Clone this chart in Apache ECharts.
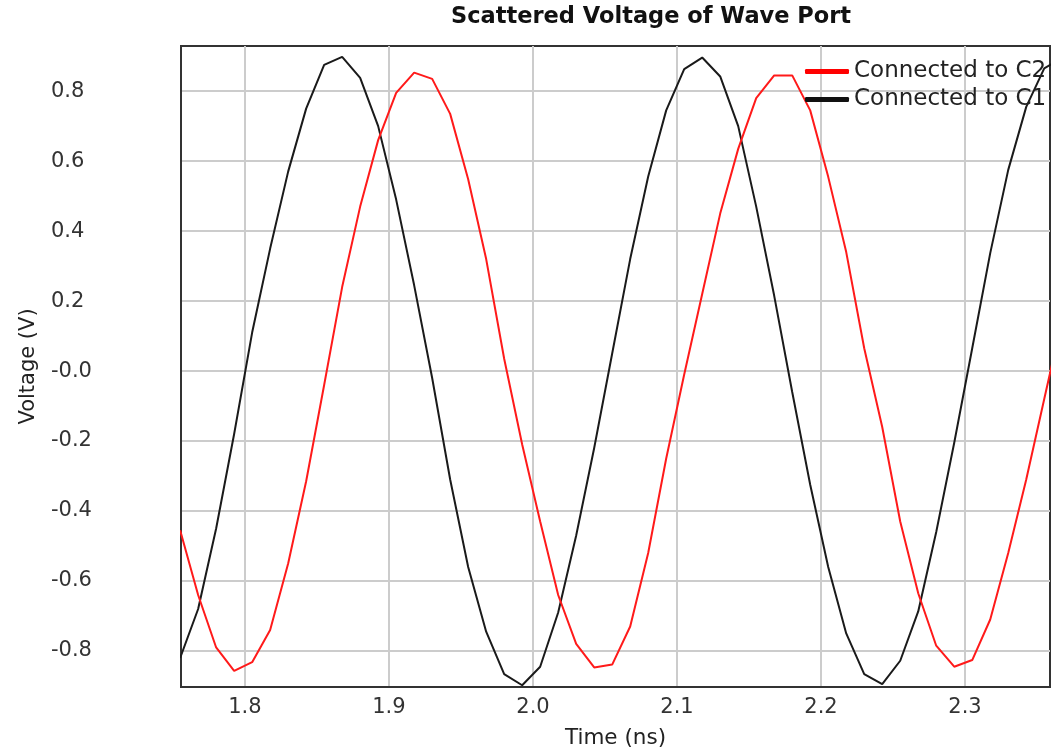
<!DOCTYPE html>
<html>
<head>
<meta charset="utf-8">
<script src="https://cdn.jsdelivr.net/npm/echarts@6/dist/echarts.min.js"></script>
<style>
html,body{margin:0;padding:0;background:#fff;}
#chart{width:1054px;height:750px;}
</style>
</head>
<body>
<div id="chart"></div>
<script>
// Sample times (ns)
var times = [1.755, 1.7675, 1.78, 1.7925, 1.805, 1.8175, 1.83, 1.8425, 1.855, 1.8675,
  1.88, 1.8925, 1.905, 1.9175, 1.93, 1.9425, 1.955, 1.9675, 1.98, 1.9925,
  2.005, 2.0175, 2.03, 2.0425, 2.055, 2.0675, 2.08, 2.0925, 2.105, 2.1175,
  2.13, 2.1425, 2.155, 2.1675, 2.18, 2.1925, 2.205, 2.2175, 2.23, 2.2425,
  2.255, 2.2675, 2.28, 2.2925, 2.305, 2.3175, 2.33, 2.3425, 2.355, 2.3675];

// Connected to C2 (red), volts
var voltsC2 = [-0.455, -0.64, -0.79, -0.857, -0.832, -0.74, -0.55, -0.315, -0.04, 0.24,
  0.47, 0.66, 0.795, 0.853, 0.835, 0.735, 0.548, 0.32, 0.035, -0.21,
  -0.43, -0.64, -0.78, -0.847, -0.839, -0.73, -0.52, -0.25, -0.01, 0.22,
  0.45, 0.635, 0.78, 0.845, 0.845, 0.745, 0.555, 0.34, 0.065, -0.16,
  -0.43, -0.635, -0.785, -0.845, -0.826, -0.71, -0.52, -0.31, -0.08, 0.15];

// Connected to C1 (black), volts
var voltsC1 = [-0.82, -0.68, -0.45, -0.18, 0.11, 0.35, 0.57, 0.75, 0.875, 0.898,
  0.838, 0.70, 0.49, 0.245, -0.02, -0.31, -0.56, -0.745, -0.866, -0.898,
  -0.845, -0.69, -0.47, -0.22, 0.05, 0.32, 0.556, 0.745, 0.863, 0.896,
  0.842, 0.70, 0.47, 0.215, -0.06, -0.325, -0.56, -0.75, -0.866, -0.895,
  -0.828, -0.687, -0.46, -0.205, 0.065, 0.337, 0.575, 0.755, 0.865, 0.895];

var seriesNames = ['Connected to C2', 'Connected to C1'];

var xTickValues = [1.8, 1.9, 2.0, 2.1, 2.2, 2.3];
var xTickLabels = ['1.8', '1.9', '2.0', '2.1', '2.2', '2.3'];
var yTickValues = [-0.8, -0.6, -0.4, -0.2, 0, 0.2, 0.4, 0.6, 0.8];
var yTickLabels = ['-0.8', '-0.6', '-0.4', '-0.2', '-0.0', '0.2', '0.4', '0.6', '0.8'];

function pairs(xs, ys) {
  var out = [];
  for (var i = 0; i < xs.length; i++) out.push([xs[i], ys[i]]);
  return out;
}
function labelFor(values, labels) {
  return function (v) {
    for (var i = 0; i < values.length; i++) {
      if (Math.abs(values[i] - v) < 1e-6) return labels[i];
    }
    return '';
  };
}

var FONT = 'DejaVu Sans';
var chart = echarts.init(document.getElementById('chart'), null, {renderer: 'canvas'});
chart.setOption({
  animation: false,
  backgroundColor: '#ffffff',
  title: {
    text: 'Scattered Voltage of Wave Port',
    left: 451,
    top: 6,
    padding: 0,
    textStyle: {fontFamily: FONT, fontSize: 22.5, fontWeight: 'bold', color: '#111111'}
  },
  legend: {
    data: seriesNames,
    orient: 'vertical',
    left: 805,
    top: 60,
    padding: 0,
    itemGap: 5,
    itemWidth: 44,
    itemHeight: 5,
    icon: 'roundRect',
    textStyle: {fontFamily: FONT, fontSize: 23, color: '#222222'}
  },
  grid: {
    left: 181, right: 4, top: 46, bottom: 63,
    outerBoundsMode: 'none',
    show: true,
    borderColor: '#333333',
    borderWidth: 2,
    backgroundColor: 'transparent'
  },
  xAxis: {
    type: 'value',
    min: 1.7556,
    max: 2.359,
    name: 'Time (ns)',
    nameLocation: 'middle',
    nameGap: 40,
    nameTextStyle: {fontFamily: FONT, fontSize: 21.5, color: '#222222'},
    axisLine: {show: true, onZero: false, lineStyle: {color: '#333333', width: 2}},
    axisTick: {show: false, customValues: xTickValues},
    axisLabel: {
      customValues: xTickValues,
      formatter: labelFor(xTickValues, xTickLabels),
      margin: 10,
      fontFamily: FONT, fontSize: 21, color: '#333333'
    },
    splitLine: {show: true, lineStyle: {color: '#cccccc', width: 2}}
  },
  yAxis: {
    type: 'value',
    min: -0.903,
    max: 0.929,
    name: 'Voltage (V)',
    nameLocation: 'middle',
    nameGap: 142,
    nameTextStyle: {fontFamily: FONT, fontSize: 21, color: '#222222'},
    axisLine: {show: true, onZero: false, lineStyle: {color: '#333333', width: 2}},
    axisTick: {show: false, customValues: yTickValues},
    axisLabel: {
      customValues: yTickValues,
      formatter: labelFor(yTickValues, yTickLabels),
      align: 'left',
      margin: 130,
      fontFamily: FONT, fontSize: 21, color: '#333333'
    },
    splitLine: {show: true, lineStyle: {color: '#cccccc', width: 2}}
  },
  series: [
    {
      name: seriesNames[1],
      type: 'line',
      data: pairs(times, voltsC1),
      showSymbol: false,
      clip: true,
      lineStyle: {color: '#1a1a1a', width: 2},
      itemStyle: {color: '#111111'}
    },
    {
      name: seriesNames[0],
      type: 'line',
      data: pairs(times, voltsC2),
      showSymbol: false,
      clip: true,
      lineStyle: {color: '#ff1a1a', width: 2},
      itemStyle: {color: '#ff0000'}
    }
  ]
});
</script>
</body>
</html>
